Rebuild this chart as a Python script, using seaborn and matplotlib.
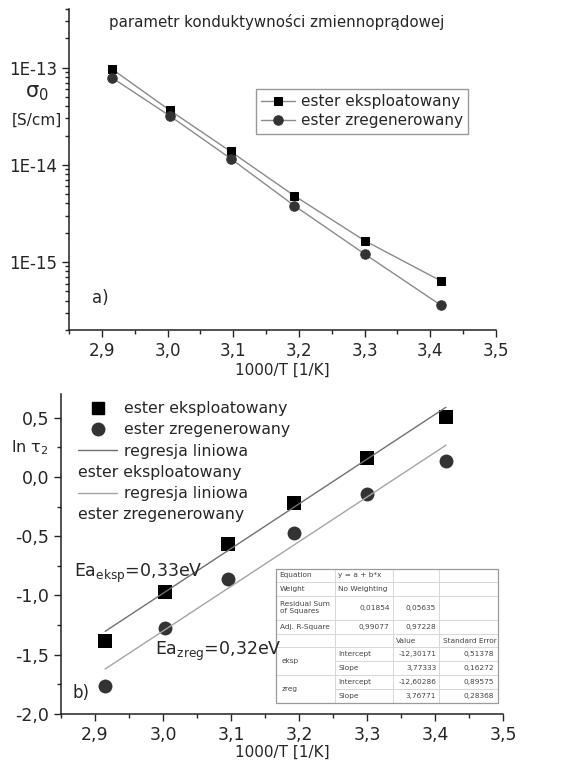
import numpy as np
import pandas as pd
import matplotlib
matplotlib.use("Agg")
import matplotlib.pyplot as plt
import matplotlib.ticker as mtick
from matplotlib.table import Table
from matplotlib.lines import Line2D
from matplotlib.patches import Rectangle
import seaborn as sns

# ================================
# DATA
# ================================
inv_T = [2.915, 3.003, 3.096, 3.193, 3.300, 3.416]

sigma_eksp = [9.7e-14, 3.65e-14, 1.37e-14, 4.8e-15, 1.66e-15, 6.4e-16]
sigma_zreg = [7.9e-14, 3.2e-14, 1.16e-14, 3.8e-15, 1.21e-15, 3.6e-16]
sigma_ticks = [1e-15, 1e-14, 1e-13]

ln_tau_eksp = [-1.385, -0.97, -0.564, -0.22, 0.161, 0.51]
ln_tau_zreg = [-1.76, -1.273, -0.861, -0.477, -0.141, 0.136]

# fit parameters from the table in the figure
intercept_eksp, slope_eksp = -12.30171, 3.77333
intercept_zreg, slope_zreg = -12.60286, 3.76771

table_rows = [
    ["Equation", "y = a + b*x", "", ""],
    ["Weight", "No Weighting", "", ""],
    ["Residual Sum\nof Squares", "0,01854", "0,05635", ""],
    ["Adj. R-Square", "0,99077", "0,97228", ""],
    ["", "", "Value", "Standard Error"],
    ["", "Intercept", "-12,30171", "0,51378"],
    ["", "Slope", "3,77333", "0,16272"],
    ["", "Intercept", "-12,60286", "0,89575"],
    ["", "Slope", "3,76771", "0,28368"],
]
table_align = [
    ["left", "left", "left", "left"],
    ["left", "left", "left", "left"],
    ["left", "right", "right", "left"],
    ["left", "right", "right", "left"],
    ["left", "left", "left", "left"],
    ["left", "left", "right", "right"],
    ["left", "left", "right", "right"],
    ["left", "left", "right", "right"],
    ["left", "left", "right", "right"],
]

df_top = pd.DataFrame({"x": inv_T, "eksp": sigma_eksp, "zreg": sigma_zreg})
df_bot = pd.DataFrame({"x": inv_T, "eksp": ln_tau_eksp, "zreg": ln_tau_zreg})
x_fit = np.array([inv_T[0], inv_T[-1]])
df_fit = pd.DataFrame({
    "x": x_fit,
    "eksp": intercept_eksp + slope_eksp * x_fit,
    "zreg": intercept_zreg + slope_zreg * x_fit,
})

# ================================
# STYLE
# ================================
sns.set_style("ticks")
plt.rcParams["font.family"] = ["DejaVu Sans"]
plt.rcParams["mathtext.fontset"] = "dejavusans"
plt.rcParams["axes.edgecolor"] = "#222222"
plt.rcParams["axes.linewidth"] = 1.1

W, H = 584, 764
fig = plt.figure(figsize=(W / 100, H / 100), dpi=100)

def fx(px):
    return px / W

def fy(py):
    return 1 - py / H

comma = mtick.FuncFormatter(lambda v, _: f"{v:.1f}".replace(".", ","))

# ================================
# TOP PANEL - sigma_0
# ================================
ax1 = fig.add_axes([fx(69), fy(330), fx(496) - fx(69), fy(9) - fy(330)])
sns.lineplot(data=df_top, x="x", y="eksp", ax=ax1, color="#8a8a8a", lw=1,
             marker="s", markersize=6.3, markerfacecolor="black",
             markeredgecolor="black", label="ester eksploatowany")
sns.lineplot(data=df_top, x="x", y="zreg", ax=ax1, color="#8a8a8a", lw=1,
             marker="o", markersize=6.8, markerfacecolor="#333333",
             markeredgecolor="#333333", label="ester zregenerowany")
ax1.set_yscale("log")
ax1.set_xlim(2.85, 3.5)
ax1.set_ylim(2e-16, 4e-13)
ax1.xaxis.set_major_locator(mtick.MultipleLocator(0.1))
ax1.xaxis.set_minor_locator(mtick.MultipleLocator(0.05))
ax1.xaxis.set_major_formatter(comma)
ax1.yaxis.set_major_locator(mtick.FixedLocator(sigma_ticks))
ax1.yaxis.set_minor_locator(mtick.LogLocator(base=10, subs=np.arange(2, 10), numticks=20))
ax1.yaxis.set_major_formatter(mtick.FuncFormatter(lambda v, _: f"1E{int(round(np.log10(v)))}"))
ax1.yaxis.set_minor_formatter(mtick.NullFormatter())
ax1.tick_params(which="major", length=5, width=1, labelsize=12, direction="out")
ax1.tick_params(which="minor", length=3, width=1, direction="out")
ax1.set_xlabel("1000/T [1/K]", fontsize=11, labelpad=2)
ax1.set_ylabel("")
sns.despine(ax=ax1)
ax1.legend(loc="upper left", bbox_to_anchor=(fx(256), fy(89)), bbox_transform=fig.transFigure,
           borderaxespad=0, fontsize=11, frameon=True, fancybox=False, edgecolor="#999999",
           framealpha=1, handlelength=2.2, handletextpad=0.4, borderpad=0.35, labelspacing=0.25)

fig.text(fx(277), fy(22), "parametr konduktywności zmiennoprądowej", fontsize=10.8,
         ha="center", va="center")
fig.text(fx(37), fy(97), "σ$_0$", fontsize=15, ha="center", va="baseline")
fig.text(fx(37), fy(120), "[S/cm]", fontsize=11, ha="center", va="center")
fig.text(fx(92), fy(298), "a)", fontsize=12, ha="left", va="center")

# ================================
# BOTTOM PANEL - ln tau_2
# ================================
ax2 = fig.add_axes([fx(61), fy(714), fx(503) - fx(61), fy(394) - fy(714)])
sns.lineplot(data=df_fit, x="x", y="eksp", ax=ax2, color="#707070", lw=1)
sns.lineplot(data=df_fit, x="x", y="zreg", ax=ax2, color="#a5a5a5", lw=1)
sns.scatterplot(data=df_bot, x="x", y="eksp", ax=ax2, marker="s", s=90,
                color="black", edgecolor="black", linewidth=0)
sns.scatterplot(data=df_bot, x="x", y="zreg", ax=ax2, marker="o", s=100,
                color="#333333", edgecolor="#333333", linewidth=0)
ax2.set_xlim(2.85, 3.5)
ax2.set_ylim(-2.0, 0.7)
ax2.xaxis.set_major_locator(mtick.MultipleLocator(0.1))
ax2.xaxis.set_minor_locator(mtick.MultipleLocator(0.05))
ax2.yaxis.set_major_locator(mtick.MultipleLocator(0.5))
ax2.yaxis.set_minor_locator(mtick.MultipleLocator(0.25))
ax2.xaxis.set_major_formatter(comma)
ax2.yaxis.set_major_formatter(comma)
ax2.tick_params(which="major", length=5, width=1, labelsize=12.5, direction="out")
ax2.tick_params(which="minor", length=3, width=1, direction="out")
ax2.set_xlabel("1000/T [1/K]", fontsize=11, labelpad=1)
ax2.set_ylabel("")
sns.despine(ax=ax2)

blank = Line2D([], [], color="none")
handles = [
    Line2D([], [], ls="none", marker="s", ms=8.5, color="black"),
    Line2D([], [], ls="none", marker="o", ms=9, color="#333333"),
    Line2D([], [], color="#707070", lw=1),
    blank,
    Line2D([], [], color="#a5a5a5", lw=1),
    blank,
]
labels = ["ester eksploatowany", "ester zregenerowany", "regresja liniowa", " ",
          "regresja liniowa", " "]
ax2.legend(handles, labels, loc="upper left", bbox_to_anchor=(fx(78), fy(401)),
           bbox_transform=fig.transFigure, borderaxespad=0, borderpad=0, frameon=False,
           fontsize=11.3, handlelength=2.5, handletextpad=0.4, labelspacing=0.4)
fig.text(fx(78), fy(473), "ester eksploatowany", fontsize=11.3, ha="left", va="center")
fig.text(fx(78), fy(515), "ester zregenerowany", fontsize=11.3, ha="left", va="center")

fig.text(fx(11), fy(452), "ln τ$_2$", fontsize=11.5, ha="left", va="baseline")
fig.text(fx(74), fy(577), "Ea$_{\\mathrm{eksp}}$=0,33eV", fontsize=12.5, ha="left", va="baseline")
fig.text(fx(155), fy(655), "Ea$_{\\mathrm{zreg}}$=0,32eV", fontsize=12.5, ha="left", va="baseline")
fig.text(fx(73), fy(693), "b)", fontsize=12, ha="left", va="center")

# ================================
# FIT TABLE
# ================================
tx0, tx1, ty0, ty1 = 276, 498, 569, 703
bbox = [(tx0 - 61) / 442, (714 - ty1) / 320, (tx1 - tx0) / 442, (ty1 - ty0) / 320]
col_w = [59, 58, 46, 59]
row_h = [12.5, 13.5, 24, 14, 12.5, 13.5, 13.5, 13.5, 14]
tab = Table(ax2, bbox=bbox)
for r, row in enumerate(table_rows):
    for c, txt in enumerate(row):
        cell = tab.add_cell(r, c, col_w[c], row_h[r], text=txt, loc=table_align[r][c],
                            facecolor="white", edgecolor="#d4d4d4")
        cell.set_linewidth(0.6)
        cell.get_text().set_fontsize(5.3)
        cell.get_text().set_color("#444444")
        cell.PAD = 0.06
        if c == 0 and r in (5, 7):
            cell.visible_edges = "LRT"
        if c == 0 and r in (6, 8):
            cell.visible_edges = "LRB"
tab.auto_set_font_size(False)
ax2.add_table(tab)
ax2.add_patch(Rectangle((bbox[0], bbox[1]), bbox[2], bbox[3], transform=ax2.transAxes,
                        fill=False, edgecolor="#9a9a9a", lw=0.9, zorder=10))

# merged labels "eksp" / "zreg"
tot_h = sum(row_h)
def row_boundary(r):
    return bbox[1] + bbox[3] * (1 - sum(row_h[:r]) / tot_h)
for r, name in [(6, "eksp"), (8, "zreg")]:
    ax2.text(bbox[0] + 0.012, row_boundary(r), name, transform=ax2.transAxes,
             fontsize=5.3, color="#444444", ha="left", va="center", zorder=11)

fig.savefig("out.png", dpi=100)
